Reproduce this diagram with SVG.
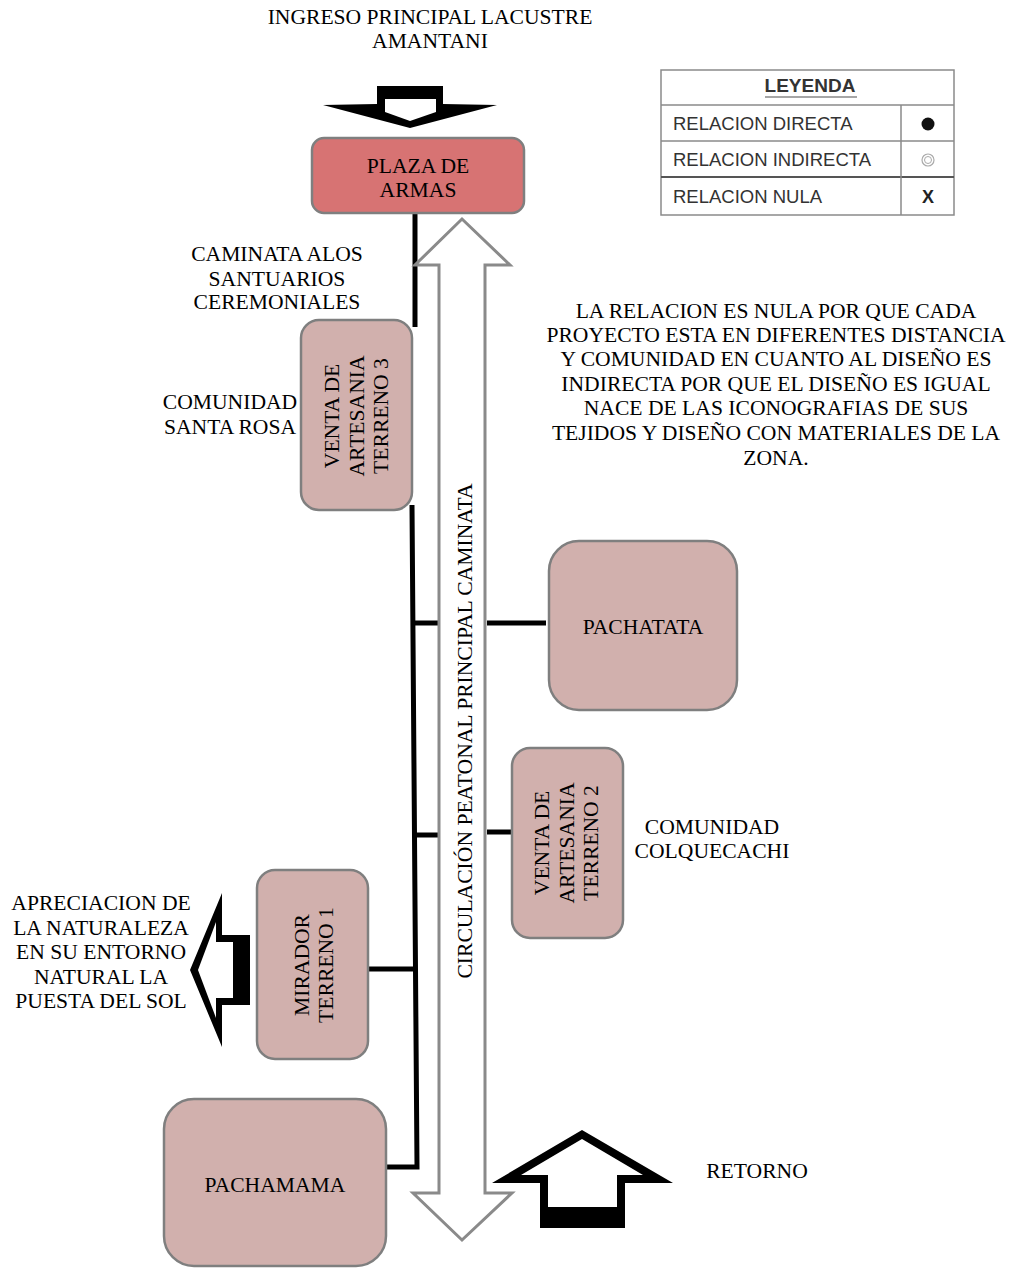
<svg xmlns="http://www.w3.org/2000/svg" width="1009" height="1268" viewBox="0 0 1009 1268">
<style>
.t{font-family:"Liberation Serif","Times New Roman",serif;font-size:21.6px;fill:#000;text-anchor:middle}
.lg{font-family:"Liberation Sans",Arial,sans-serif;font-size:18.5px;fill:#333}
.node{fill:#d1b0ad;stroke:#7f7f7f;stroke-width:2.5}
.plaza{fill:#d77373;stroke:#7f7f7f;stroke-width:2.5}
.conn{stroke:#000;stroke-width:5;fill:none}
.lgb{stroke:#8a8a8a;stroke-width:1.5;fill:none}
</style>
<rect width="1009" height="1268" fill="#fff"/>

<!-- top entry arrow -->
<g id="ingreso">
<text class="t" x="430" y="24">INGRESO PRINCIPAL LACUSTRE</text>
<text class="t" x="430" y="48">AMANTANI</text>
<polygon points="377,86 443,86 443,104 497,105 410,128 323,105 377,104" fill="#000"/>
<polygon points="385,99 436,99 436,112 410,121 385,112" fill="#fff"/>
</g>

<!-- legend -->
<g id="leyenda">
<rect x="661" y="70" width="293" height="145" fill="#fff" class="lgb"/>
<line x1="661" y1="105" x2="954" y2="105" class="lgb"/>
<line x1="661" y1="141" x2="954" y2="141" class="lgb"/>
<line x1="661" y1="177" x2="954" y2="177" stroke="#555" stroke-width="2"/>
<line x1="901" y1="105" x2="901" y2="215" class="lgb"/>
<text x="810" y="92" text-anchor="middle" style="font-family:'Liberation Sans',Arial,sans-serif;font-size:19px;font-weight:bold;fill:#333">LEYENDA</text>
<line x1="765" y1="97" x2="857" y2="97" stroke="#888" stroke-width="1.5"/>
<text class="lg" x="673" y="130">RELACION DIRECTA</text>
<text class="lg" x="673" y="166">RELACION INDIRECTA</text>
<text class="lg" x="673" y="203">RELACION NULA</text>
<circle cx="928" cy="124" r="6.5" fill="#111"/>
<circle cx="928" cy="160" r="6" fill="none" stroke="#aaa" stroke-width="1.2"/>
<circle cx="928" cy="160" r="3.5" fill="none" stroke="#aaa" stroke-width="1"/>
<text x="928" y="203" text-anchor="middle" style="font-family:'Liberation Sans',Arial,sans-serif;font-size:18px;font-weight:bold;fill:#222">X</text>
</g>

<!-- explanatory note -->
<g id="nota">
<text class="t" x="776" y="318">LA RELACION ES NULA POR QUE CADA</text>
<text class="t" x="776" y="342">PROYECTO ESTA EN DIFERENTES DISTANCIA</text>
<text class="t" x="776" y="366">Y COMUNIDAD EN CUANTO AL DISEÑO ES</text>
<text class="t" x="776" y="391">INDIRECTA POR QUE EL DISEÑO ES IGUAL</text>
<text class="t" x="776" y="415">NACE DE LAS ICONOGRAFIAS DE SUS</text>
<text class="t" x="776" y="440">TEJIDOS Y DISEÑO CON MATERIALES DE LA</text>
<text class="t" x="776" y="465">ZONA.</text>
</g>

<!-- connectors -->
<g id="connectors">
<line class="conn" x1="415" y1="213" x2="415" y2="327"/>
<polyline class="conn" points="412,505 417,1167 386,1167"/>
<line class="conn" x1="413" y1="623" x2="438" y2="623"/>
<line class="conn" x1="487" y1="623" x2="546" y2="623"/>
<line class="conn" x1="414" y1="835" x2="440" y2="835"/>
<line class="conn" x1="487" y1="832" x2="512" y2="832"/>
<line class="conn" x1="369" y1="969" x2="415" y2="969"/>
</g>

<!-- main pedestrian circulation -->
<g id="circulacion">
<polygon points="462,219 510,265 485,265 485,1193 512,1193 462,1240 413,1193 439,1193 439,265 415,265" fill="#fff" stroke="#8a8a8a" stroke-width="3"/>
<text class="t" transform="translate(472,731) rotate(-90)">CIRCULACIÓN PEATONAL PRINCIPAL CAMINATA</text>
</g>

<g id="plaza">
<rect class="plaza" x="312" y="138" width="212" height="75" rx="12"/>
<text class="t" x="418" y="173">PLAZA DE</text>
<text class="t" x="418" y="197">ARMAS</text>
</g>

<g id="santuarios">
<text class="t" x="277" y="261">CAMINATA ALOS</text>
<text class="t" x="277" y="286">SANTUARIOS</text>
<text class="t" x="277" y="309">CEREMONIALES</text>
</g>

<g id="santa-rosa">
<text class="t" x="230" y="409">COMUNIDAD</text>
<text class="t" x="230" y="434">SANTA ROSA</text>
</g>

<g id="terreno3">
<rect class="node" x="301" y="320" width="111" height="190" rx="18"/>
<text class="t" transform="translate(339,416) rotate(-90)">VENTA DE</text>
<text class="t" transform="translate(364,416) rotate(-90)">ARTESANIA</text>
<text class="t" transform="translate(388,416) rotate(-90)">TERRENO 3</text>
</g>

<g id="pachatata">
<rect class="node" x="549" y="541" width="188" height="169" rx="30"/>
<text class="t" x="643" y="634">PACHATATA</text>
</g>

<g id="terreno2">
<rect class="node" x="512" y="748" width="111" height="190" rx="18"/>
<text class="t" transform="translate(549,843) rotate(-90)">VENTA DE</text>
<text class="t" transform="translate(574,843) rotate(-90)">ARTESANIA</text>
<text class="t" transform="translate(598,843) rotate(-90)">TERRENO 2</text>
</g>

<g id="colquecachi">
<text class="t" x="712" y="834">COMUNIDAD</text>
<text class="t" x="712" y="858">COLQUECACHI</text>
</g>

<g id="mirador">
<rect class="node" x="257" y="870" width="111" height="189" rx="18"/>
<text class="t" transform="translate(309,965) rotate(-90)">MIRADOR</text>
<text class="t" transform="translate(333,965) rotate(-90)">TERRENO 1</text>
</g>

<g id="apreciacion">
<text class="t" x="101" y="910">APRECIACION DE</text>
<text class="t" x="101" y="935">LA NATURALEZA</text>
<text class="t" x="101" y="959">EN SU ENTORNO</text>
<text class="t" x="101" y="984">NATURAL LA</text>
<text class="t" x="101" y="1008">PUESTA DEL SOL</text>
<polygon points="190,970 222,893 222,935 250,935 250,1005 222,1005 222,1047" fill="#000"/>
<polygon points="198,970 216,922 216,942 233,942 233,998 216,998 216,1018" fill="#fff"/>
</g>

<g id="pachamama">
<rect class="node" x="164" y="1099" width="222" height="167" rx="30"/>
<text class="t" x="275" y="1192">PACHAMAMA</text>
</g>

<g id="retorno">
<polygon points="582,1130 673,1183 625,1183 625,1228 540,1228 540,1183 492,1183" fill="#000"/>
<polygon points="582,1139 643,1175 617,1175 617,1207 548,1207 548,1175 521,1175" fill="#fff"/>
<text class="t" x="757" y="1178">RETORNO</text>
</g>
</svg>
